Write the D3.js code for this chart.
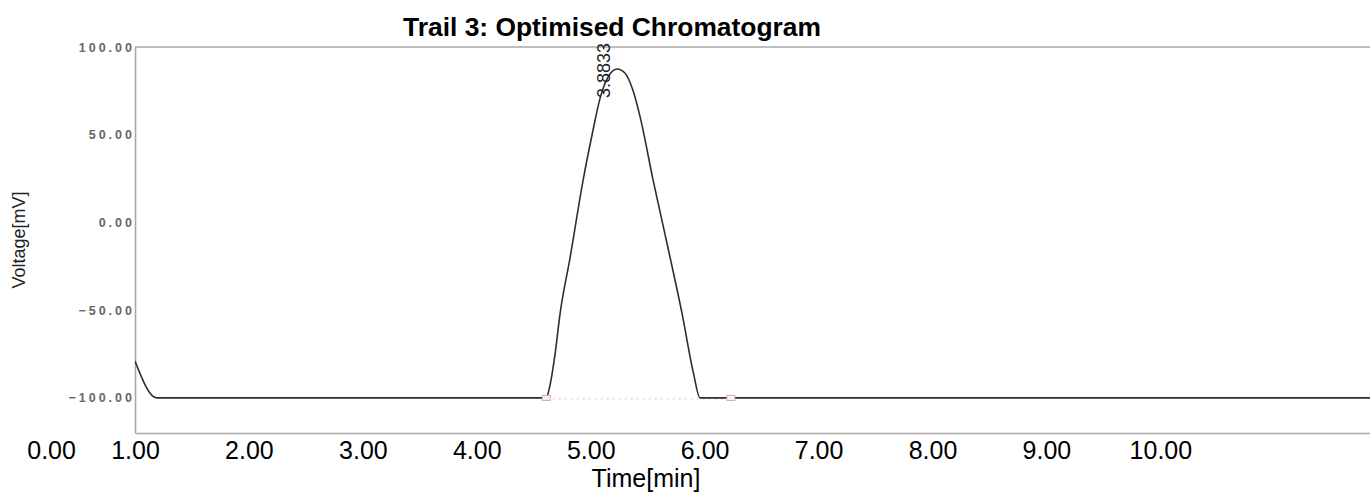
<!DOCTYPE html>
<html lang="en">
<head>
<meta charset="utf-8">
<title>Trail 3: Optimised Chromatogram</title>
<script src="https://d3js.org/d3.v7.min.js"></script>
<style>
  body { margin: 0; background: #fff; }
</style>
</head>
<body>
<div id="canvas"></div>
<script>
// trace: time [min] and voltage [mV]
const traceTime    = [1.00, 1.19, 4.61, 4.635, 4.687, 4.731, 4.819, 4.933, 5.012, 5.083, 5.153, 5.232, 5.302, 5.372, 5.434, 5.548, 5.680, 5.802, 5.899, 5.960, 11.84];
const traceVoltage = [-79, -100, -100, -95, -75, -52, -20, 24, 50, 71, 83, 87.5, 85, 75, 60, 24, -15, -52, -85, -100, -100];

// integration start / end markers
const markerTime    = [4.61, 6.23];
const markerVoltage = [-100, -100];

const peakLabel = "3.8833";
const peakTime = 5.232, peakVoltage = 87.5;

const xTicks = [0, 1, 2, 3, 4, 5, 6, 7, 8, 9, 10];
const yTicks = [-100, -50, 0, 50, 100];

const width = 1370, height = 493;
const plotLeft = 135, plotRight = 1370, plotTop = 47, plotBottom = 433;

const x = d3.scaleLinear().domain([1, 11.84]).range([plotLeft, plotRight]);
const y = d3.scaleLinear().domain([-120, 100]).range([plotBottom, plotTop]);

const svg = d3.select("#canvas").append("svg")
    .attr("width", width)
    .attr("height", height)
    .attr("font-family", "'Liberation Sans', Arial, sans-serif");

svg.append("defs").append("clipPath").attr("id", "plot-clip")
  .append("rect")
    .attr("x", plotLeft).attr("y", plotTop)
    .attr("width", plotRight - plotLeft).attr("height", plotBottom - plotTop);

// top frame line
svg.append("line")
    .attr("x1", plotLeft).attr("x2", plotRight)
    .attr("y1", y(100)).attr("y2", y(100))
    .attr("stroke", "#a8a8a8").attr("stroke-width", 1.6);

// y axis
const yAxis = svg.append("g")
    .attr("transform", `translate(${plotLeft},0)`)
    .call(d3.axisLeft(y).tickValues(yTicks).tickSize(0).tickSizeOuter(0).tickPadding(3).tickFormat(d3.format(".2f")));
yAxis.select(".domain").attr("stroke", "#a8a8a8").attr("stroke-width", 1.6);
yAxis.selectAll("text")
    .attr("font-size", 12.5)
    .attr("font-weight", "bold")
    .attr("letter-spacing", 3)
    .attr("dx", 3)
    .attr("fill", "#666");

// x axis
const xAxis = svg.append("g")
    .attr("transform", `translate(0,${plotBottom})`)
    .call(d3.axisBottom(x).tickValues(xTicks).tickSize(0).tickSizeOuter(0).tickPadding(8).tickFormat(d3.format(".2f")));
xAxis.select(".domain").attr("stroke", "#a8a8a8").attr("stroke-width", 1.6);
xAxis.selectAll("text")
    .attr("font-size", 25)
    .attr("fill", "#000")
    .attr("dx", d => d === 0 ? 30 : 0);

// faint baseline between markers
svg.append("line")
    .attr("x1", x(markerTime[0])).attr("x2", x(markerTime[1]))
    .attr("y1", y(markerVoltage[0]) + 1).attr("y2", y(markerVoltage[1]) + 1)
    .attr("stroke", "#efd6d6").attr("stroke-width", 1.2)
    .attr("stroke-dasharray", "3,3");

// trace
const line = d3.line()
    .x((d, i) => x(traceTime[i]))
    .y((d, i) => y(traceVoltage[i]))
    .curve(d3.curveMonotoneX);

svg.append("path")
    .datum(traceTime)
    .attr("clip-path", "url(#plot-clip)")
    .attr("d", line)
    .attr("fill", "none")
    .attr("stroke", "#2e2e2e")
    .attr("stroke-width", 1.6)
    .attr("stroke-linejoin", "round");

// markers
svg.selectAll(".marker")
  .data(markerTime)
  .join("rect")
    .attr("class", "marker")
    .attr("x", d => x(d) - 4)
    .attr("y", (d, i) => y(markerVoltage[i]) - 2.5)
    .attr("width", 8).attr("height", 5)
    .attr("fill", "#fbf4f4")
    .attr("stroke", "#d9a8a8")
    .attr("stroke-width", 1);

// peak label
svg.append("text")
    .attr("transform", `translate(${x(peakTime) - 7},${y(peakVoltage) + 29}) rotate(-90)`)
    .attr("font-family", "'Liberation Sans Narrow', 'Arial Narrow', sans-serif")
    .attr("font-size", 18)
    .attr("fill", "#222")
    .text(peakLabel);

// title
svg.append("text")
    .attr("x", 612).attr("y", 36)
    .attr("text-anchor", "middle")
    .attr("font-size", 26.4)
    .attr("font-weight", "bold")
    .attr("fill", "#000")
    .text("Trail 3: Optimised Chromatogram");

// axis titles
svg.append("text")
    .attr("x", 646).attr("y", 487)
    .attr("text-anchor", "middle")
    .attr("font-size", 25)
    .attr("fill", "#000")
    .text("Time[min]");

svg.append("text")
    .attr("transform", "translate(25,240) rotate(-90)")
    .attr("text-anchor", "middle")
    .attr("font-family", "'Liberation Sans Narrow', 'Arial Narrow', sans-serif")
    .attr("font-size", 18)
    .attr("fill", "#222")
    .text("Voltage[mV]");
</script>
</body>
</html>
